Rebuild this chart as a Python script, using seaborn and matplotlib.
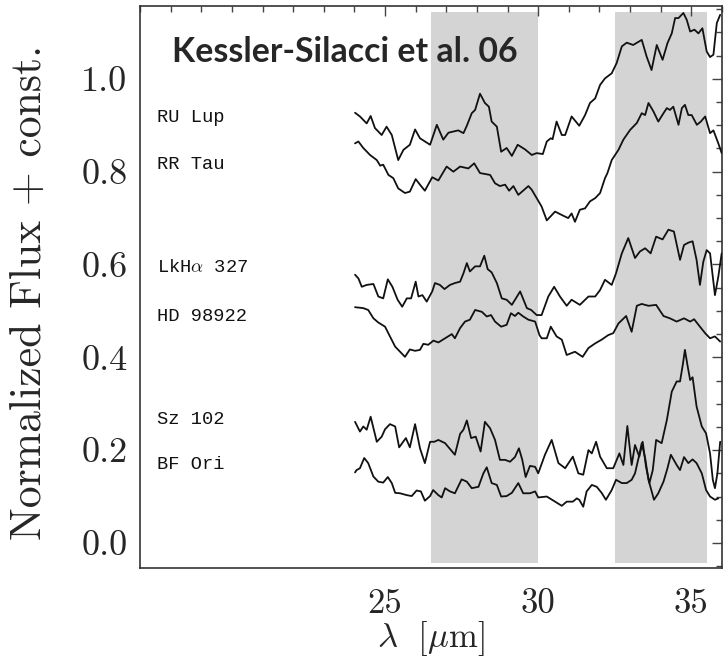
import numpy as np
import pandas as pd
import matplotlib
matplotlib.use('Agg')
import matplotlib.pyplot as plt
import seaborn as sns
from matplotlib.ticker import MultipleLocator

sns.set_style('white')
plt.rcParams['mathtext.fontset'] = 'cm'
plt.rcParams['axes.formatter.use_mathtext'] = True

# ---------------- data ----------------
star_names = ['RU Lup', 'RR Tau', 'LkH$\\alpha$ 327', 'HD 98922', 'Sz 102', 'BF Ori']
label_y = [0.916, 0.815, 0.593, 0.489, 0.265, 0.170]

wl_ru_lup = [24.02, 24.18, 24.40, 24.53, 24.67, 24.89, 25.05, 25.22, 25.43, 25.60, 25.81, 25.98, 26.14, 26.47,
             26.69, 26.90, 27.07, 27.39, 27.56, 27.67, 27.83, 27.94, 28.10, 28.26, 28.39, 28.48, 28.65, 28.79,
             28.97, 29.14, 29.33, 29.57, 29.79, 29.95, 30.15, 30.28, 30.41, 30.47, 30.60, 30.77, 30.88, 31.09,
             31.34, 31.53, 31.69, 31.86, 32.02, 32.18, 32.40, 32.56, 32.73, 32.89, 33.10, 33.38, 33.54, 33.70,
             33.87, 34.06, 34.22, 34.36, 34.47, 34.58, 34.74, 34.85, 34.96, 35.10, 35.23, 35.36, 35.50, 35.61,
             35.72, 35.83, 35.94]
flux_ru_lup = [0.927, 0.919, 0.904, 0.920, 0.894, 0.879, 0.897, 0.879, 0.825, 0.847, 0.858, 0.891, 0.872, 0.858,
               0.901, 0.869, 0.884, 0.889, 0.883, 0.899, 0.926, 0.933, 0.968, 0.948, 0.940, 0.908, 0.897, 0.843,
               0.851, 0.834, 0.858, 0.848, 0.836, 0.840, 0.838, 0.865, 0.872, 0.870, 0.908, 0.879, 0.879, 0.919,
               0.899, 0.922, 0.948, 0.958, 0.987, 1.001, 1.012, 1.034, 1.070, 1.078, 1.073, 1.084, 1.048, 1.019,
               1.073, 1.041, 1.077, 1.098, 1.131, 1.131, 1.142, 1.127, 1.102, 1.106, 1.098, 1.109, 1.059, 1.047,
               1.052, 1.120, 1.138]

wl_rr_tau = [24.02, 24.13, 24.29, 24.51, 24.73, 24.84, 24.94, 25.11, 25.27, 25.43, 25.65, 25.81, 26.00, 26.14,
             26.30, 26.54, 26.74, 27.01, 27.23, 27.45, 27.72, 27.91, 28.10, 28.43, 28.59, 28.75, 28.92, 29.05,
             29.19, 29.35, 29.68, 29.79, 29.95, 30.11, 30.28, 30.55, 30.82, 30.98, 31.09, 31.20, 31.36, 31.53,
             31.69, 31.86, 32.02, 32.18, 32.26, 32.40, 32.62, 32.78, 33.00, 33.22, 33.38, 33.49, 33.60, 33.76,
             33.92, 34.09, 34.20, 34.30, 34.41, 34.58, 34.69, 34.79, 34.90, 35.01, 35.18, 35.31, 35.45, 35.61,
             35.72, 35.88, 35.99]
flux_rr_tau = [0.861, 0.865, 0.851, 0.836, 0.825, 0.813, 0.815, 0.793, 0.786, 0.764, 0.754, 0.757, 0.784, 0.772,
               0.759, 0.788, 0.781, 0.811, 0.800, 0.811, 0.807, 0.818, 0.797, 0.793, 0.775, 0.769, 0.772, 0.759,
               0.769, 0.750, 0.769, 0.761, 0.743, 0.725, 0.695, 0.714, 0.705, 0.700, 0.710, 0.692, 0.718, 0.721,
               0.736, 0.743, 0.754, 0.786, 0.797, 0.825, 0.847, 0.869, 0.890, 0.905, 0.926, 0.922, 0.948, 0.930,
               0.908, 0.926, 0.937, 0.933, 0.940, 0.901, 0.937, 0.944, 0.922, 0.922, 0.901, 0.908, 0.919, 0.883,
               0.889, 0.861, 0.840]

wl_lkha327 = [24.02, 24.13, 24.24, 24.40, 24.62, 24.78, 24.94, 25.09, 25.24, 25.41, 25.56, 25.71, 25.85, 26.00,
              26.09, 26.22, 26.36, 26.54, 26.63, 26.79, 26.94, 27.12, 27.28, 27.45, 27.56, 27.67, 27.77, 27.94,
              28.10, 28.24, 28.35, 28.48, 28.65, 28.81, 28.97, 29.14, 29.41, 29.63, 29.77, 29.95, 30.11, 30.33,
              30.52, 30.71, 30.93, 31.09, 31.36, 31.64, 31.86, 32.02, 32.18, 32.40, 32.54, 32.73, 32.94, 33.16,
              33.32, 33.49, 33.67, 33.85, 34.06, 34.25, 34.43, 34.63, 34.76, 34.90, 35.04, 35.17, 35.28, 35.39,
              35.50, 35.61, 35.77, 35.88, 35.99]
flux_lkha327 = [0.578, 0.570, 0.552, 0.556, 0.558, 0.531, 0.527, 0.568, 0.552, 0.524, 0.509, 0.527, 0.527, 0.563,
                0.531, 0.534, 0.520, 0.542, 0.560, 0.556, 0.547, 0.556, 0.560, 0.563, 0.581, 0.603, 0.585, 0.596,
                0.596, 0.619, 0.590, 0.583, 0.560, 0.527, 0.524, 0.513, 0.542, 0.506, 0.502, 0.491, 0.491, 0.531,
                0.552, 0.531, 0.511, 0.524, 0.513, 0.531, 0.531, 0.545, 0.567, 0.556, 0.581, 0.624, 0.657, 0.614,
                0.628, 0.635, 0.624, 0.660, 0.654, 0.675, 0.671, 0.610, 0.642, 0.647, 0.650, 0.610, 0.556, 0.606,
                0.631, 0.624, 0.534, 0.574, 0.624]

wl_hd98922 = [24.02, 24.29, 24.45, 24.62, 24.78, 25.00, 25.16, 25.33, 25.49, 25.65, 25.81, 25.98, 26.14, 26.25,
              26.41, 26.58, 26.74, 26.96, 27.18, 27.28, 27.45, 27.61, 27.77, 27.94, 28.16, 28.32, 28.46, 28.59,
              28.79, 28.97, 29.11, 29.24, 29.35, 29.51, 29.68, 29.90, 30.04, 30.11, 30.28, 30.41, 30.60, 30.77,
              30.93, 31.20, 31.45, 31.64, 31.86, 32.07, 32.29, 32.45, 32.62, 32.87, 33.05, 33.22, 33.38, 33.60,
              33.85, 34.09, 34.30, 34.52, 34.76, 34.96, 35.09, 35.28, 35.45, 35.61, 35.77, 35.94]
flux_hd98922 = [0.508, 0.506, 0.502, 0.484, 0.475, 0.466, 0.445, 0.423, 0.412, 0.401, 0.417, 0.414, 0.416, 0.429,
                0.427, 0.436, 0.432, 0.441, 0.450, 0.441, 0.463, 0.477, 0.481, 0.502, 0.498, 0.488, 0.491, 0.477,
                0.466, 0.470, 0.495, 0.489, 0.496, 0.488, 0.481, 0.477, 0.448, 0.441, 0.441, 0.466, 0.445, 0.438,
                0.405, 0.412, 0.401, 0.420, 0.430, 0.438, 0.448, 0.452, 0.473, 0.489, 0.455, 0.511, 0.515, 0.511,
                0.513, 0.489, 0.484, 0.477, 0.484, 0.477, 0.482, 0.466, 0.452, 0.441, 0.445, 0.434]

wl_sz102 = [24.02, 24.18, 24.29, 24.40, 24.53, 24.73, 24.89, 25.00, 25.16, 25.33, 25.46, 25.68, 25.81, 25.98,
            26.14, 26.30, 26.47, 26.61, 26.74, 26.96, 27.28, 27.45, 27.56, 27.67, 27.81, 27.96, 28.12, 28.26,
            28.43, 28.59, 28.75, 28.92, 29.08, 29.24, 29.37, 29.48, 29.59, 29.73, 29.90, 30.00, 30.22, 30.44,
            30.66, 30.88, 31.13, 31.31, 31.47, 31.64, 31.75, 31.89, 32.02, 32.24, 32.45, 32.65, 32.78, 32.91,
            33.05, 33.16, 33.30, 33.41, 33.52, 33.63, 33.74, 33.85, 34.03, 34.20, 34.36, 34.52, 34.63, 34.72,
            34.79, 34.87, 34.96, 35.04, 35.17, 35.34, 35.48, 35.61, 35.70, 35.77, 35.85, 35.94]
flux_sz102 = [0.261, 0.240, 0.251, 0.244, 0.272, 0.218, 0.229, 0.245, 0.256, 0.251, 0.206, 0.226, 0.206, 0.256,
              0.204, 0.172, 0.218, 0.218, 0.222, 0.215, 0.190, 0.235, 0.244, 0.264, 0.226, 0.229, 0.197, 0.261,
              0.247, 0.222, 0.179, 0.179, 0.175, 0.185, 0.204, 0.179, 0.142, 0.166, 0.164, 0.150, 0.190, 0.222,
              0.172, 0.161, 0.186, 0.150, 0.147, 0.200, 0.193, 0.218, 0.186, 0.161, 0.161, 0.193, 0.168, 0.252,
              0.168, 0.211, 0.186, 0.218, 0.164, 0.129, 0.157, 0.222, 0.215, 0.265, 0.326, 0.348, 0.348, 0.384,
              0.416, 0.384, 0.351, 0.357, 0.294, 0.251, 0.236, 0.193, 0.136, 0.118, 0.150, 0.218]

wl_bf_ori = [24.02, 24.07, 24.18, 24.32, 24.45, 24.62, 24.78, 24.94, 25.09, 25.22, 25.33, 25.49, 25.71, 25.87,
             26.03, 26.17, 26.30, 26.47, 26.57, 26.74, 26.85, 26.96, 27.12, 27.28, 27.50, 27.67, 27.83, 28.05,
             28.21, 28.32, 28.48, 28.65, 28.79, 28.97, 29.14, 29.35, 29.51, 29.73, 29.90, 30.00, 30.28, 30.55,
             30.77, 30.93, 31.13, 31.26, 31.34, 31.47, 31.58, 31.75, 31.91, 32.07, 32.21, 32.40, 32.54, 32.73,
             32.89, 33.05, 33.16, 33.30, 33.38, 33.49, 33.60, 33.78, 33.92, 34.09, 34.22, 34.33, 34.52, 34.63,
             34.76, 34.90, 35.04, 35.17, 35.34, 35.48, 35.61, 35.77, 35.88]
flux_bf_ori = [0.152, 0.157, 0.161, 0.183, 0.172, 0.143, 0.132, 0.130, 0.142, 0.129, 0.108, 0.107, 0.103, 0.101,
               0.113, 0.111, 0.091, 0.101, 0.114, 0.103, 0.098, 0.118, 0.111, 0.107, 0.137, 0.132, 0.118, 0.121,
               0.150, 0.163, 0.129, 0.125, 0.100, 0.101, 0.108, 0.129, 0.107, 0.107, 0.111, 0.098, 0.100, 0.089,
               0.080, 0.089, 0.089, 0.096, 0.093, 0.078, 0.111, 0.125, 0.121, 0.108, 0.093, 0.114, 0.136, 0.129,
               0.129, 0.136, 0.150, 0.190, 0.215, 0.183, 0.136, 0.093, 0.107, 0.132, 0.161, 0.190, 0.168, 0.157,
               0.185, 0.172, 0.180, 0.172, 0.150, 0.114, 0.100, 0.093, 0.096]

shaded_bands = [(26.5, 30.0), (32.5, 35.5)]
x_major_ticks = [25, 30, 35]
y_major_ticks = [0.0, 0.2, 0.4, 0.6, 0.8, 1.0]
y_tick_labels = ['0.0', '0.2', '0.4', '0.6', '0.8', '1.0']

# ---------------- build long table ----------------
series = [(wl_ru_lup, flux_ru_lup), (wl_rr_tau, flux_rr_tau), (wl_lkha327, flux_lkha327),
          (wl_hd98922, flux_hd98922), (wl_sz102, flux_sz102), (wl_bf_ori, flux_bf_ori)]
df = pd.concat([pd.DataFrame({'wl': w, 'flux': f, 'star': n})
                for n, (w, f) in zip(star_names, series)], ignore_index=True)

# ---------------- figure ----------------
fig = plt.figure(figsize=(7.27, 6.57), dpi=100)
ax = fig.add_axes([140 / 727, 89 / 657, 582 / 727, 562 / 657])

for lo, hi in shaded_bands:
    ax.axvspan(lo, hi, ymin=0.009, ymax=0.989, color='#d4d4d4', lw=0, zorder=0)

sns.lineplot(data=df, x='wl', y='flux', hue='star', units='star', estimator=None, sort=False,
             palette={n: '#111111' for n in star_names}, legend=False, lw=1.3, ax=ax, zorder=3)

ax.set_xlim(17, 36)
ax.set_ylim(-0.054, 1.157)

ax.set_xticks(x_major_ticks)
ax.set_xticklabels([str(t) for t in x_major_ticks], fontfamily='cmr10', fontsize=25)
ax.xaxis.set_minor_locator(MultipleLocator(1))
ax.set_yticks(y_major_ticks)
ax.set_yticklabels(y_tick_labels, fontfamily='cmr10', fontsize=26)
ax.yaxis.set_minor_locator(MultipleLocator(0.05))
ax.tick_params(which='both', direction='in', top=True, right=True, color='#444444', width=1.0)
ax.tick_params(which='major', length=7)
ax.tick_params(which='minor', length=4)
ax.tick_params(axis='x', which='major', pad=15)
ax.tick_params(axis='y', which='major', pad=9)

for s in ax.spines.values():
    s.set_color('#333333')
    s.set_linewidth(1.2)

ax.set_xlabel(r'$\lambda\ \ [\mu\mathrm{m}]$', fontsize=25)
ax.xaxis.set_label_coords(0.5, -0.09)
ax.set_ylabel('Normalized Flux + const.', fontfamily='cmr10', fontsize=31.5)
ax.yaxis.set_label_coords(-0.155, 0.49)

for name, yv in zip(star_names, label_y):
    ax.text(17.55, yv, name, fontfamily='Liberation Mono', fontsize=13.5,
            ha='left', va='center', zorder=4, color='#111111')

ax.text(0.055, 0.918, 'Kessler-Silacci et al. 06', transform=ax.transAxes, fontfamily='Lato',
        fontweight='bold', fontsize=24.4, ha='left', va='center', zorder=5)

fig.savefig('out.png', dpi=100)
